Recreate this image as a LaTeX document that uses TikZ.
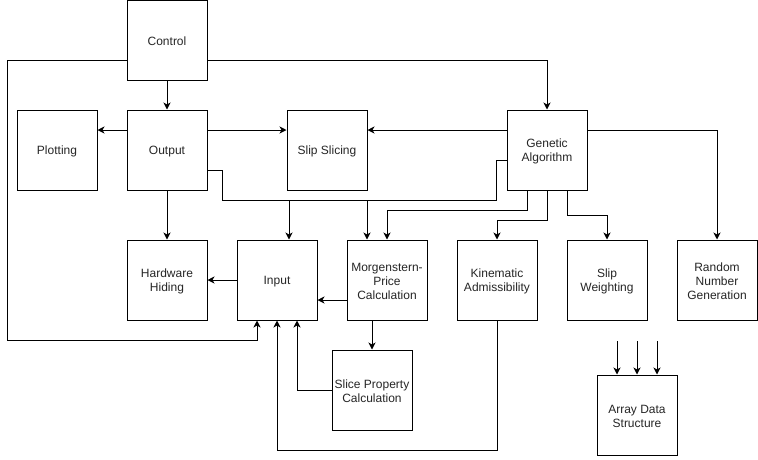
\documentclass[tikz,border=0pt]{standalone}
\usepackage{fontspec}
\setmainfont{Liberation Sans}
\usetikzlibrary{arrows.meta}
\begin{document}
\begin{tikzpicture}[x=1pt,y=-1pt,
  lbl/.style={align=center, inner sep=0pt, yshift=-1.5pt,
    font=\fontsize{12}{13.8}\selectfont, text=black!85},
  box/.style={draw, line width=1pt, minimum width=80pt, minimum height=80pt,
    inner sep=0pt, label={[lbl]center:#1}},
  link/.style={line width=1pt},
  arr/.style={link, -{Stealth[length=7pt,width=7pt,inset=2pt]}}]
\useasboundingbox (0,0) rectangle (758,459);
\fill[white] (0,0) rectangle (758,459);

\node[box={Control}] (Control) at (167,40) {};
\node[box={Output}] (Output) at (167,150) {};
\node[box={Plotting}] (Plotting) at (57,150) {};
\node[box={Slip Slicing}] (SlipSlicing) at (327,150) {};
\node[box={Genetic\\Algorithm}] (GA) at (547,150) {};
\node[box={Hardware\\Hiding}] (Hardware) at (167,280) {};
\node[box={Input}] (Input) at (277,280) {};
\node[box={Morgenstern-\\Price\\Calculation}] (Morgen) at (387,280) {};
\node[box={Kinematic\\Admissibility}] (Kinem) at (497,280) {};
\node[box={Slip\\Weighting}] (SlipW) at (607,280) {};
\node[box={Random\\Number\\Generation}] (Random) at (717,280) {};
\node[box={Slice Property\\Calculation}] (Slice) at (372,390) {};
\node[box={Array Data\\Structure}] (Array) at (637,415) {};

\coordinate (lp) at (7,340);
\coordinate (a1) at (617,341);
\coordinate (a2) at (637,341);
\coordinate (a3) at (657,341);

% Control
\draw[arr] ([yshift=-20pt]Control.west) -| (lp) -| ([xshift=-20pt]Input.south);
\draw[arr] ([yshift=-20pt]Control.east) -| (GA.north);
\draw[arr] (Control) -- (Output);

% Output
\draw[arr] ([yshift=20pt]Output.west) -- ([yshift=20pt]Plotting.east);
\draw[arr] ([yshift=20pt]Output.east) -- ([yshift=20pt]SlipSlicing.west);
\draw[arr] (Output) -- (Hardware);
\draw[arr] ([yshift=-20pt]Output.east) -- ++(15,0) -- ++(0,30) -| ([xshift=-20pt]Morgen.north);

% Genetic Algorithm
\draw[arr] ([yshift=20pt]GA.west) -- ([yshift=20pt]SlipSlicing.east);
\draw[arr] ([yshift=-10pt]GA.west) -- ++(-10,0) -- ++(0,40) -| ([xshift=12pt]Input.north);
\draw[arr] ([xshift=-20pt]GA.south) -- ++(0,20) -| (Morgen.north);
\draw[arr] (GA.south) -- ++(0,30) -| (Kinem.north);
\draw[arr] ([xshift=20pt]GA.south) -- ++(0,25) -| (SlipW.north);
\draw[arr] ([yshift=20pt]GA.east) -| (Random.north);

% Input and calculations
\draw[arr] (Input) -- (Hardware);
\draw[arr] ([yshift=-20pt]Morgen.west) -- ([yshift=-20pt]Input.east);
\draw[arr] ([xshift=-15pt]Morgen.south) -- (Slice.north);
\draw[arr] (Slice.west) -| ([xshift=20pt]Input.south);
\draw[arr] (Kinem.south) -- ++(0,130) -| (Input.south);

% Array data structure
\draw[arr] (a1) -- ([xshift=-20pt]Array.north);
\draw[arr] (a2) -- (Array.north);
\draw[arr] (a3) -- ([xshift=20pt]Array.north);
\end{tikzpicture}
\end{document}
